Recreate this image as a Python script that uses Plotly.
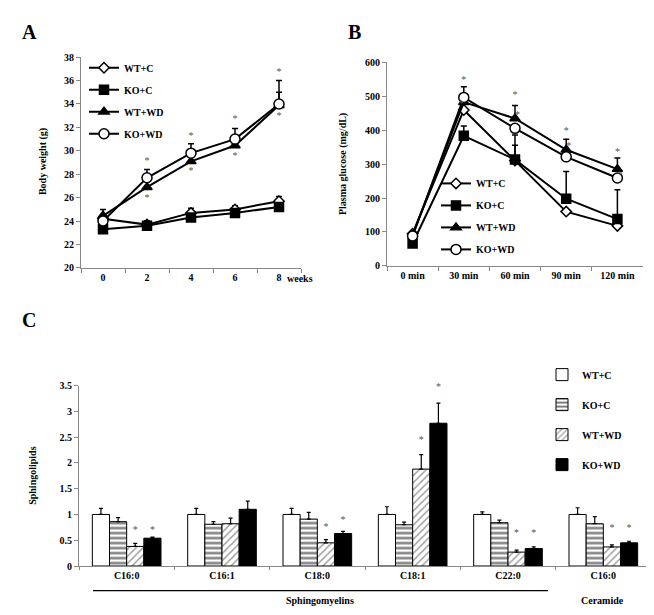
import plotly.graph_objects as go

# ---------------- Data ----------------
groups = ["WT+C", "KO+C", "WT+WD", "KO+WD"]

# Panel A: body weight
weeks = ["0", "2", "4", "6", "8"]
bw_wtc = [24.2, 23.7, 24.7, 25.0, 25.7]
bw_koc = [23.3, 23.6, 24.3, 24.7, 25.2]
bw_wtwd = [24.45, 26.9, 29.1, 30.45, 33.9]
bw_kowd = [24.0, 27.7, 29.8, 31.0, 34.0]
bw_err_wtc = [0, 0.3, 0.4, 0.3, 0.4]
bw_err_koc = [0, 0.4, 0, 0, 0]
bw_err_wtwd = [0.55, 0, 0, 0, 1.1]
bw_err_kowd = [0, 0.7, 0.8, 0.9, 2.0]
bw_star_x = ["2", "4", "6", "8", "2", "4", "6", "8"]
bw_star_y = [29.1, 31.2, 32.7, 36.7, 25.9, 28.2, 29.5, 32.9]

# Panel B: plasma glucose
times = ["0 min", "30 min", "60 min", "90 min", "120 min"]
gl_wtc = [95, 459, 310, 160, 118]
gl_koc = [66, 383, 313, 198, 138]
gl_wtwd = [92, 482, 434, 342, 285]
gl_kowd = [88, 496, 405, 321, 259]
gl_err_wtc = [0, 0, 45, 0, 0]
gl_err_koc = [0, 29, 72, 80, 86]
gl_err_wtwd = [0, 0, 38, 31, 33]
gl_err_kowd = [0, 31, 0, 0, 0]
gl_star_x = ["30 min", "30 min", "60 min", "60 min", "90 min", "90 min", "120 min", "120 min"]
gl_star_y = [547, 476, 503, 444, 397, 352, 335, 265]
gl_star_pos = ["middle center", "middle left", "middle center", "middle right",
               "middle center", "middle right", "middle center", "middle right"]

# Panel C: sphingolipids
lipids = ["C16:0", "C16:1", "C18:0", "C18:1", "C22:0", "C16:0"]
sp_wtc = [1.0, 1.0, 1.0, 1.0, 1.0, 1.0]
sp_koc = [0.86, 0.81, 0.91, 0.80, 0.84, 0.82]
sp_wtwd = [0.38, 0.82, 0.45, 1.88, 0.27, 0.37]
sp_kowd = [0.54, 1.10, 0.63, 2.77, 0.34, 0.45]
sp_err_wtc = [0.12, 0.12, 0.12, 0.15, 0.05, 0.13]
sp_err_koc = [0.08, 0.05, 0.13, 0.05, 0.05, 0.14]
sp_err_wtwd = [0.06, 0.11, 0.06, 0.28, 0.04, 0.04]
sp_err_kowd = [0.02, 0.16, 0.04, 0.39, 0.03, 0.03]
# asterisks: (lipid index, group index, y)
sp_star_idx = [0, 0, 2, 2, 3, 3, 4, 4, 5, 5]
sp_star_grp = [2, 3, 2, 3, 2, 3, 2, 3, 2, 3]
sp_star_y = [0.69, 0.69, 0.75, 0.88, 2.44, 3.47, 0.64, 0.64, 0.72, 0.72]
y3_ticks = [0, 0.5, 1, 1.5, 2, 2.5, 3, 3.5]
y3_ticktext = ["0", "0.5", "1", "1.5", "2", "2.5", "3", "3.5"]

FONT = "Liberation Serif"
BLACK = "#000000"
STAR = "#555555"

fig = go.Figure()

# ---------------- Panel A ----------------
a_specs = [
    (bw_wtc, bw_err_wtc, "diamond", 8, "white"),
    (bw_koc, bw_err_koc, "square", 9, BLACK),
    (bw_wtwd, bw_err_wtwd, "triangle-up", 9, BLACK),
    (bw_kowd, bw_err_kowd, "circle", 10, "white"),
]
for name, (vals, err, sym, size, fill) in zip(groups, a_specs):
    fig.add_trace(go.Scatter(
        x=weeks, y=vals, name=name, mode="lines+markers",
        line=dict(color=BLACK, width=2),
        marker=dict(symbol=sym, size=size, color=fill,
                    line=dict(color=BLACK, width=1.5)),
        error_y=dict(type="data", array=err, arrayminus=[0] * len(err), symmetric=False,
                     color=BLACK, thickness=1.5, width=3),
        xaxis="x", yaxis="y", legend="legend", legendgroup="a" + name,
    ))
fig.add_trace(go.Scatter(
    x=bw_star_x, y=bw_star_y, mode="text", text=["*"] * len(bw_star_x),
    textfont=dict(family=FONT, size=10, color=STAR), showlegend=False, cliponaxis=False,
    xaxis="x", yaxis="y", hoverinfo="skip"))

# ---------------- Panel B ----------------
b_specs = [
    (gl_wtc, gl_err_wtc, "diamond", 8, "white"),
    (gl_koc, gl_err_koc, "square", 9, BLACK),
    (gl_wtwd, gl_err_wtwd, "triangle-up", 9, BLACK),
    (gl_kowd, gl_err_kowd, "circle", 10, "white"),
]
for name, (vals, err, sym, size, fill) in zip(groups, b_specs):
    fig.add_trace(go.Scatter(
        x=times, y=vals, name=name, mode="lines+markers",
        line=dict(color=BLACK, width=2),
        marker=dict(symbol=sym, size=size, color=fill,
                    line=dict(color=BLACK, width=1.5)),
        error_y=dict(type="data", array=err, arrayminus=[0] * len(err), symmetric=False,
                     color=BLACK, thickness=1.5, width=3),
        xaxis="x2", yaxis="y2", legend="legend2", legendgroup="b" + name,
    ))
fig.add_trace(go.Scatter(
    x=gl_star_x, y=gl_star_y, mode="text", text=["*"] * len(gl_star_x),
    textposition=gl_star_pos, cliponaxis=False,
    textfont=dict(family=FONT, size=10, color=STAR), showlegend=False,
    xaxis="x2", yaxis="y2", hoverinfo="skip"))

# ---------------- Panel C ----------------
BARGAP = 0.28
bar_w = (1 - BARGAP) / 4
c_specs = [
    (sp_wtc, sp_err_wtc, dict(color="white", line=dict(color=BLACK, width=1))),
    (sp_koc, sp_err_koc, dict(color="white", line=dict(color=BLACK, width=1),
                              pattern=dict(shape="-", fgcolor=BLACK, bgcolor="white",
                                           size=5, solidity=0.5))),
    (sp_wtwd, sp_err_wtwd, dict(color="white", line=dict(color=BLACK, width=1),
                                pattern=dict(shape="/", fgcolor="#444444", bgcolor="white",
                                             size=5, solidity=0.3))),
    (sp_kowd, sp_err_kowd, dict(color=BLACK, line=dict(color=BLACK, width=1))),
]
xs = list(range(len(lipids)))
for name, (vals, err, mk) in zip(groups, c_specs):
    fig.add_trace(go.Bar(
        x=xs, y=vals, name=name, marker=mk,
        error_y=dict(type="data", array=err, arrayminus=[0] * len(err), symmetric=False,
                     color=BLACK, thickness=1.2, width=2),
        xaxis="x3", yaxis="y3", legend="legend3", legendgroup="c" + name,
    ))
star_x = [i + (g - 1.5) * bar_w for i, g in zip(sp_star_idx, sp_star_grp)]
fig.add_trace(go.Scatter(
    x=star_x, y=sp_star_y, mode="text", text=["*"] * len(star_x), cliponaxis=False,
    textfont=dict(family=FONT, size=10, color=STAR), showlegend=False,
    xaxis="x3", yaxis="y3", hoverinfo="skip"))

# ---------------- Layout ----------------
W, H = 654, 615
def px(x):
    return x / W
def py(y):
    return 1 - y / H

tickfont = dict(family=FONT, size=10, color=BLACK, weight="bold")
axis_common = dict(showgrid=False, zeroline=False, showline=True, linecolor="#888888",
                   linewidth=1, tickfont=tickfont, ticks="outside", tickcolor="#888888",
                   ticklen=4)

legfont = dict(family=FONT, size=10, color=BLACK, weight="bold")

fig.update_layout(
    width=W, height=H, margin=dict(l=0, r=0, t=0, b=0),
    paper_bgcolor="white", plot_bgcolor="white",
    barmode="group", bargap=BARGAP, bargroupgap=0,
    font=dict(family=FONT, color=BLACK),
    xaxis=dict(axis_common, domain=[px(73), px(293)], anchor="y", type="category",
               tickson="boundaries", range=[-0.5, 4.5]),
    yaxis=dict(axis_common, domain=[py(259), py(44)], anchor="x", range=[20, 38], dtick=2),
    xaxis2=dict(axis_common, domain=[px(379), px(635)], anchor="y2", type="category",
                tickson="boundaries", range=[-0.5, 4.5]),
    yaxis2=dict(axis_common, domain=[py(257), py(49)], anchor="x2", range=[0, 600], dtick=100),
    xaxis3=dict(axis_common, domain=[px(71), px(643)], anchor="y3", range=[-0.5, 5.5],
                tickvals=xs, ticktext=lipids, ticks="",
                minor=dict(tick0=0.5, dtick=1, ticks="outside", ticklen=3, tickcolor="#888888")),
    yaxis3=dict(axis_common, domain=[py(563), py(379)], anchor="x3", range=[0, 3.5],
                tickvals=y3_ticks, ticktext=y3_ticktext),
    legend=dict(x=px(76), y=py(40), xanchor="left", yanchor="top", font=legfont,
                bgcolor="rgba(0,0,0,0)", tracegroupgap=3, itemwidth=30),
    legend2=dict(x=px(428), y=py(158), xanchor="left", yanchor="top", font=legfont,
                 bgcolor="rgba(0,0,0,0)", tracegroupgap=3, itemwidth=30),
    legend3=dict(x=px(534), y=py(353), xanchor="left", yanchor="top", font=legfont,
                 bgcolor="rgba(0,0,0,0)", tracegroupgap=11, itemwidth=30),
    showlegend=True,
)

ann = [
    dict(text="<b>A</b>", x=px(12), y=py(18), xanchor="left", yanchor="middle", size=20),
    dict(text="<b>B</b>", x=px(338), y=py(18), xanchor="left", yanchor="middle", size=20),
    dict(text="<b>C</b>", x=px(12), y=py(312), xanchor="left", yanchor="middle", size=20),
    dict(text="<b>weeks</b>", x=px(277), y=py(270), xanchor="left", yanchor="middle", size=10),
    dict(text="<b>Sphingomyelins</b>", x=px(312), y=py(598), xanchor="center", yanchor="middle", size=10),
    dict(text="<b>Ceramide</b>", x=px(594), y=py(598), xanchor="center", yanchor="middle", size=10),
]
for a in ann:
    fig.add_annotation(text=a["text"], x=a["x"], y=a["y"], xref="paper", yref="paper",
                       xanchor=a["xanchor"], yanchor=a["yanchor"], showarrow=False,
                       font=dict(family=FONT, size=a["size"], color=BLACK))

for text, x, y in [("<b>Body weight (g)</b>", 35, 151), ("<b>Plasma glucose (mg/dL)</b>", 335, 153),
                   ("<b>Sphingolipids</b>", 25, 471)]:
    fig.add_annotation(text=text, x=px(x), y=py(y), xref="paper", yref="paper", textangle=-90,
                       showarrow=False, xanchor="center", yanchor="middle",
                       font=dict(family=FONT, size=10, color=BLACK))

fig.add_shape(type="line", xref="paper", yref="paper", x0=px(85), x1=px(540), y0=py(588), y1=py(588),
              line=dict(color=BLACK, width=1.2))

fig.write_html("out.html")
